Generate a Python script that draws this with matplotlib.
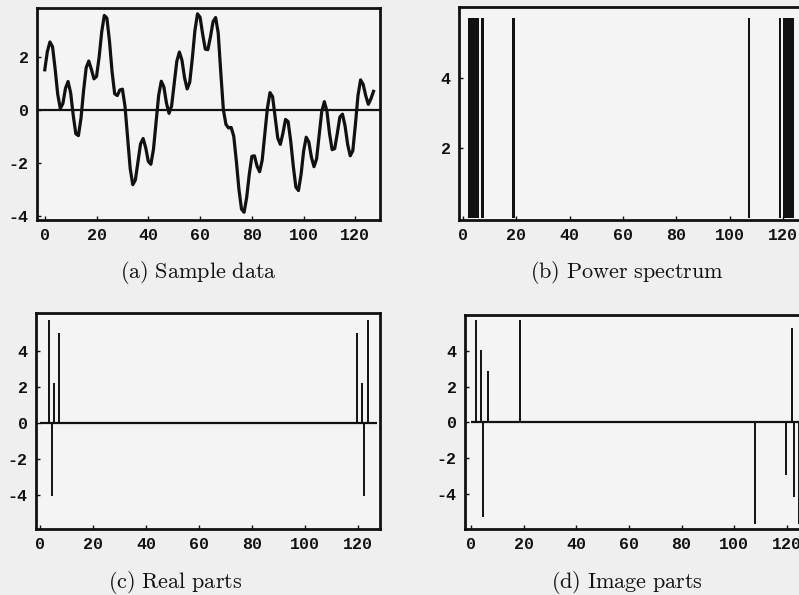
import numpy as np
import matplotlib
matplotlib.use("Agg")
import matplotlib.pyplot as plt

plt.rcParams['mathtext.fontset'] = 'cm'
plt.rcParams['axes.unicode_minus'] = False

# (a) sample data at each integer index 0..127
sample = [1.51, 2.20, 2.56, 2.38, 1.55, 0.59, 0.05, 0.24, 0.81, 1.07,
          0.64, -0.21, -0.90, -0.97, -0.31, 0.73, 1.59, 1.84, 1.53, 1.17,
          1.26, 1.99, 2.94, 3.56, 3.46, 2.59, 1.44, 0.61, 0.54, 0.75,
          0.78, 0.13, -1.06, -2.21, -2.82, -2.64, -1.95, -1.28, -1.08, -1.43,
          -1.94, -2.05, -1.48, -0.45, 0.55, 1.08, 0.87, 0.26, -0.13, 0.15,
          0.98, 1.83, 2.18, 1.87, 1.21, 0.79, 1.04, 1.94, 2.99, 3.62,
          3.49, 2.85, 2.29, 2.27, 2.75, 3.32, 3.48, 2.90, 1.40, 0.00,
          -0.55, -0.68, -0.66, -0.99, -1.92, -2.99, -3.74, -3.86, -3.30, -2.43,
          -1.75, -1.73, -2.12, -2.33, -1.89, -0.91, 0.06, 0.65, 0.50, -0.27,
          -1.06, -1.30, -0.88, -0.36, -0.44, -1.17, -2.12, -2.91, -3.04, -2.44,
          -1.55, -1.03, -1.21, -1.78, -2.14, -1.85, -0.96, -0.06, 0.31, -0.05,
          -0.89, -1.50, -1.46, -0.89, -0.27, -0.16, -0.60, -1.30, -1.73, -1.54,
          -0.55, 0.55, 1.13, 0.96, 0.53, 0.21, 0.42, 0.70]
t = np.arange(len(sample))

# (b) power spectrum (values beyond the plot range are shown clipped)
power_k = [2.5, 3.5, 4.5, 5.5, 7.2, 19.0, 107.3, 118.9, 120.6, 121.6, 122.6, 123.6]
power_v = [5.72] * len(power_k)

# (c) real parts
real_k = [3.4, 4.4, 5.4, 7.3, 119.7, 121.6, 122.4, 123.7]
real_v = [5.69, -4.03, 2.19, 4.96, 4.96, 2.19, -4.03, 5.69]

# (d) imaginary parts
imag_k = [1.9, 3.7, 4.4, 6.6, 18.6, 107.9, 119.6, 121.8, 122.8, 124.6]
imag_v = [5.7, 4.04, -5.3, 2.86, 5.7, -5.7, -2.93, 5.27, -4.17, -5.7]

W, H = 799, 595
bg = '#efefef'
ink = '#111111'
fig = plt.figure(figsize=(W / 100, H / 100), dpi=100, facecolor=bg)


def px_axes(l, t_, r, b):
    ax = fig.add_axes([l / W, 1 - b / H, (r - l) / W, (b - t_) / H])
    ax.set_facecolor('#f4f4f4')
    for s in ax.spines.values():
        s.set_linewidth(2.0)
        s.set_color(ink)
    ax.tick_params(direction='in', length=3, width=1, color=ink,
                   top=False, right=False, pad=6)
    return ax


def style_labels(ax):
    for lab in ax.get_xticklabels() + ax.get_yticklabels():
        lab.set_fontfamily('Liberation Mono')
        lab.set_fontweight('bold')
        lab.set_fontsize(12)
        lab.set_color(ink)


xt = [0, 20, 40, 60, 80, 100, 120]

# (a)
ax = px_axes(37, 8, 380, 220)
ax.plot(t, sample, color=ink, lw=2.3, solid_joinstyle='round')
ax.axhline(0, color=ink, lw=1.6)
ax.set_xlim(-3, 129.5)
ax.set_ylim(-4.15, 3.84)
ax.set_xticks(xt)
ax.set_yticks([-4, -2, 0, 2])
style_labels(ax)

# (b)
ax = px_axes(459, 7, 803, 220)
ax.bar(power_k, power_v, width=1.0, color=ink, edgecolor='none')
ax.set_xlim(-1.5, 127.5)
ax.set_ylim(-0.06, 6.03)
ax.set_xticks(xt)
ax.set_yticks([2, 4])
style_labels(ax)

# (c)
ax = px_axes(36, 313, 380, 529)
ax.hlines(0, 0, 127, color=ink, lw=1.6)
ax.vlines(real_k, 0, real_v, color=ink, lw=1.4)
ax.set_xlim(-1.5, 128.3)
ax.set_ylim(-5.86, 6.08)
ax.set_xticks(xt)
ax.set_yticks([-4, -2, 0, 2, 4])
style_labels(ax)

# (d)
ax = px_axes(465, 315, 809, 529)
ax.hlines(0, 0, 127, color=ink, lw=1.6)
ax.vlines(imag_k, 0, imag_v, color=ink, lw=1.4)
ax.set_xlim(-2.3, 128.4)
ax.set_ylim(-5.96, 6.0)
ax.set_xticks(xt)
ax.set_yticks([-4, -2, 0, 2, 4])
style_labels(ax)

captions = [(198, 273, r'$\mathrm{(a)\ Sample\ data}$'),
            (627, 273, r'$\mathrm{(b)\ Power\ spectrum}$'),
            (175, 582, r'$\mathrm{(c)\ Real\ parts}$'),
            (627, 583, r'$\mathrm{(d)\ Image\ parts}$')]
for x, y, s in captions:
    fig.text(x / W, 1 - y / H, s, ha='center', va='center', fontsize=16, color=ink)

fig.savefig('out.png', dpi=100, facecolor=bg)
